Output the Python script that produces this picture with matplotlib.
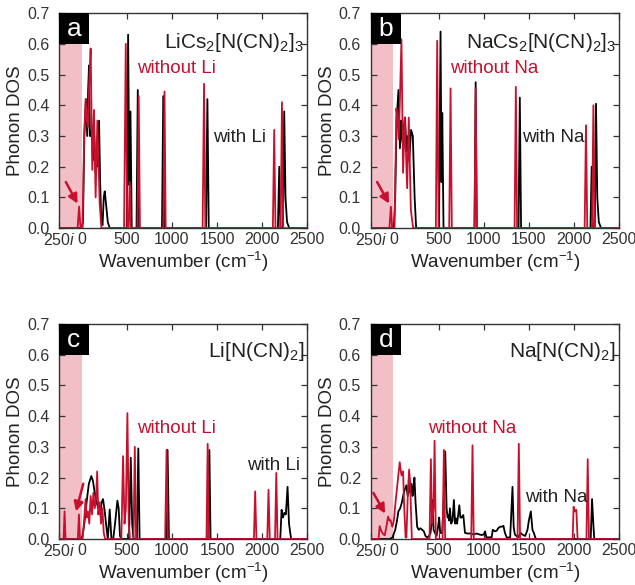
import matplotlib
matplotlib.use("Agg")
import matplotlib.pyplot as plt
from matplotlib.patches import Rectangle

plt.rcParams['font.family'] = ['Liberation Sans', 'DejaVu Sans']
plt.rcParams['mathtext.fontset'] = 'custom'
plt.rcParams['mathtext.rm'] = 'Liberation Sans'
plt.rcParams['mathtext.it'] = 'Liberation Sans:italic'
plt.rcParams['mathtext.bf'] = 'Liberation Sans:bold'

RED = '#c8102e'
PINK = '#f2bfc7'

# ---- panel a: LiCs2[N(CN)2]3 ----
a_red_x = [-250, -45, -28, -15, -5, 10, 28, 44, 58, 70, 85, 100, 118, 137, 155, 174, 200, 219,
           470, 489, 505, 520, 532, 545, 618, 632, 646, 905, 918, 931, 1340, 1356, 1370,
           2118, 2133, 2147, 2205, 2219, 2233, 2500]
a_red_y = [0, 0, 0.07, 0.01, 0, 0, 0.30, 0.42, 0.35, 0.33, 0.48, 0.585, 0.19, 0.385, 0.10, 0.35, 0.08, 0,
           0, 0.60, 0, 0, 0.15, 0, 0, 0.43, 0, 0, 0.445, 0, 0, 0.47, 0,
           0, 0.32, 0, 0, 0.41, 0, 0]
a_blk_x = [-250, 0, 15, 30, 48, 62, 72, 82, 92, 102, 112, 125, 140, 155, 170, 182, 193, 205, 218,
           232, 245, 256, 270, 290, 311,
           500, 515, 528, 541, 555, 608, 622, 636, 890, 904, 918, 1378, 1393, 1408,
           2174, 2189, 2202, 2230, 2244, 2258, 2275, 2300, 2500]
a_blk_y = [0, 0, 0.02, 0.30, 0.42, 0.30, 0.45, 0.53, 0.30, 0.30, 0.32, 0.22, 0.30, 0.18, 0.25, 0.20, 0.35, 0.15, 0.02,
           0.01, 0.10, 0.12, 0.08, 0.02, 0,
           0, 0.63, 0.14, 0.38, 0, 0, 0.45, 0, 0, 0.43, 0, 0, 0.42, 0,
           0, 0.20, 0, 0, 0.38, 0.10, 0.02, 0, 0]

# ---- panel b: NaCs2[N(CN)2]3 ----
b_red_x = [-250, -44, -28, -14, 12, 33, 45, 59, 75, 89, 107, 126, 152, 170, 193, 219,
           470, 485, 500, 618, 633, 647, 898, 911, 924, 1342, 1356, 1370,
           2118, 2133, 2147, 2200, 2215, 2229, 2500]
b_red_y = [0, 0, 0.07, 0, 0, 0.39, 0.35, 0.29, 0.45, 0.615, 0.18, 0.36, 0.13, 0.36, 0.06, 0,
           0, 0.61, 0, 0, 0.455, 0, 0, 0.455, 0, 0, 0.46, 0,
           0, 0.335, 0, 0, 0.40, 0, 0]
b_blk_x = [-250, 5, 20, 35, 56, 72, 85, 100, 115, 129, 145, 160, 175, 196, 215, 235, 252,
           505, 522, 533, 541, 555, 898, 911, 924, 1386, 1400, 1414,
           2182, 2196, 2208, 2230, 2244, 2258, 2275, 2300, 2500]
b_blk_y = [0, 0, 0.10, 0.35, 0.45, 0.26, 0.35, 0.28, 0.33, 0.36, 0.25, 0.30, 0.22, 0.32, 0.30, 0.10, 0,
           0, 0.64, 0.15, 0.375, 0, 0, 0.475, 0, 0, 0.425, 0,
           0, 0.20, 0, 0, 0.405, 0.10, 0.02, 0, 0]

# ---- panel c: Li[N(CN)2] ----
c_red_x = [-250, -200, -189, -178, -42, -30, -18, 10, 25, 44, 55, 70, 85, 100, 115, 130, 145, 160,
           172, 185, 200, 215, 230, 245, 260,
           440, 459, 475, 490, 507, 522, 535, 575, 589, 603, 925, 941, 955, 1383, 1396, 1409,
           1908, 1922, 1936, 2056, 2070, 2084, 2142, 2156, 2170, 2500]
c_red_y = [0, 0, 0.09, 0, 0, 0.08, 0, 0, 0.05, 0.13, 0.07, 0.09, 0.05, 0.14, 0.08, 0.15, 0.10, 0.13,
           0.22, 0.08, 0.12, 0.05, 0.10, 0.02, 0,
           0, 0.27, 0.05, 0.10, 0.41, 0.05, 0, 0, 0.30, 0, 0, 0.29, 0, 0, 0.31, 0,
           0, 0.155, 0, 0, 0.16, 0, 0, 0.215, 0, 0]
c_blk_x = [-250, -10, 10, 30, 55, 80, 107, 125, 145, 165, 185, 205, 222, 237, 256, 274, 290,
           311, 330, 350, 370, 396, 410, 425, 440,
           525, 544, 560, 575, 612, 628, 642, 937, 952, 967, 1402, 1415, 1428,
           2200, 2215, 2230, 2245, 2262, 2281, 2297, 2320, 2500]
c_blk_y = [0, 0, 0.01, 0.05, 0.12, 0.18, 0.205, 0.19, 0.15, 0.12, 0.10, 0.08, 0.12, 0.13, 0.09, 0.04, 0.0,
           0.096, 0.0, 0.0, 0.05, 0.125, 0.10, 0.01, 0,
           0, 0.265, 0.05, 0, 0, 0.295, 0, 0, 0.29, 0, 0, 0.29, 0,
           0, 0.095, 0.07, 0.085, 0.08, 0.17, 0.05, 0, 0]

# ---- panel d: Na[N(CN)2] ----
d_red_x = [-250, -165, -152, -133, -110, -96, -78, -59, -45, -33, -20, -11, 5, 26, 52, 70, 89, 107,
           120, 135, 144, 160, 174, 186, 204,
           400, 415, 428, 445, 456, 470, 545, 559, 573, 862, 876, 890, 1375, 1389, 1403,
           1985, 1996, 2010, 2026, 2040, 2138, 2152, 2166, 2500]
d_red_y = [0, 0, 0.042, 0.025, 0.015, 0.012, 0.04, 0.073, 0.06, 0.062, 0.05, 0.04, 0.06, 0.127, 0.20, 0.25, 0.207, 0.22,
           0.10, 0.005, 0.005, 0.15, 0.226, 0.18, 0,
           0, 0.26, 0.05, 0.10, 0.32, 0, 0, 0.29, 0, 0, 0.305, 0, 0, 0.31, 0,
           0, 0.105, 0.09, 0.095, 0, 0, 0.26, 0, 0]
d_blk_x = [-250, -40, -10, 20, 40, 55, 75, 95, 107, 125, 144, 158, 172, 185, 200, 212, 222, 233,
           245, 263, 280, 300, 318, 337, 355, 374, 395, 411, 422, 433, 445, 460, 478, 495, 507,
           518, 540, 560, 574, 589, 600, 607, 617, 626, 640, 655, 670, 683, 693, 705, 718, 730,
           742, 755, 774, 793, 820, 848, 885, 922, 950, 978, 1000, 1015, 1030, 1089, 1100, 1125,
           1144, 1160, 1181, 1200, 1219, 1235, 1255, 1293, 1305, 1319, 1332, 1345, 1380, 1410,
           1425, 1460, 1485, 1500, 1522, 1540, 1555, 1578, 2185, 2200, 2214, 2225, 2500]
d_blk_y = [0, 0, 0.005, 0.03, 0.06, 0.09, 0.10, 0.12, 0.14, 0.16, 0.175, 0.14, 0.18, 0.15, 0.18, 0.14, 0.17, 0.20,
           0.12, 0.04, 0.03, 0.035, 0.03, 0.025, 0.01, 0.005, 0.01, 0.02, 0.05, 0.127, 0.03, 0.02, 0.01, 0.04, 0.07,
           0.02, 0.02, 0.15, 0.285, 0.10, 0.07, 0.078, 0.06, 0.10, 0.05, 0.06, 0.127, 0.05, 0.067, 0.05, 0.08, 0.11,
           0.07, 0.07, 0.078, 0.02, 0.018, 0.018, 0.015, 0.018, 0.015, 0.013, 0.015, 0.025, 0.005, 0.006, 0.03, 0.025,
           0.027, 0.035, 0.04, 0.04, 0.043, 0.02, 0.005, 0.005, 0.08, 0.17, 0.04, 0.015, 0.005, 0.02,
           0.015, 0.01, 0.03, 0.06, 0.09, 0.03, 0.02, 0, 0, 0.13, 0.05, 0, 0]

xtick_pos = [-250, 0, 500, 1000, 1500, 2000, 2500]
xtick_lab = ['250$\\it{i}$', '0', '500', '1000', '1500', '2000', '2500']

panels = [
    dict(letter='a', rect=[0.093, 0.610, 0.391, 0.3675],
         title='LiCs$_2$[N(CN)$_2$]$_3$', title_y=0.865,
         rx=a_red_x, ry=a_red_y, bx=a_blk_x, by=a_blk_y,
         wo='without Li', wo_xy=(0.314, 0.744), w='with Li', w_xy=(0.62, 0.423),
         arrow=((-175, 0.15), (-45, 0.08))),
    dict(letter='b', rect=[0.584, 0.610, 0.391, 0.3675],
         title='NaCs$_2$[N(CN)$_2$]$_3$', title_y=0.865,
         rx=b_red_x, ry=b_red_y, bx=b_blk_x, by=b_blk_y,
         wo='without Na', wo_xy=(0.318, 0.744), w='with Na', w_xy=(0.61, 0.423),
         arrow=((-180, 0.15), (-48, 0.08))),
    dict(letter='c', rect=[0.093, 0.0786, 0.391, 0.3675],
         title='Li[N(CN)$_2$]', title_y=0.87,
         rx=c_red_x, ry=c_red_y, bx=c_blk_x, by=c_blk_y,
         wo='without Li', wo_xy=(0.314, 0.516), w='with Li', w_xy=(0.758, 0.344),
         arrow=((18, 0.18), (-62, 0.09))),
    dict(letter='d', rect=[0.584, 0.0786, 0.391, 0.3675],
         title='Na[N(CN)$_2$]', title_y=0.87,
         rx=d_red_x, ry=d_red_y, bx=d_blk_x, by=d_blk_y,
         wo='without Na', wo_xy=(0.23, 0.516), w='with Na', w_xy=(0.62, 0.195),
         arrow=((-222, 0.15), (-92, 0.083))),
]

fig = plt.figure(figsize=(6.35, 5.85), dpi=100)

for p in panels:
    ax = fig.add_axes(p['rect'])
    ax.set_xlim(-250, 2500)
    ax.set_ylim(0, 0.7)
    # imaginary-frequency region
    ax.add_patch(Rectangle((-250, 0), 250, 0.6, facecolor=PINK, edgecolor='none', zorder=0))
    ax.plot(p['bx'], p['by'], color='black', lw=1.3, zorder=2)
    ax.plot(p['rx'], p['ry'], color=RED, lw=1.3, zorder=3)
    # panel letter box
    ax.add_patch(Rectangle((0, 0.857), 0.12, 0.143, transform=ax.transAxes,
                           facecolor='black', edgecolor='none', zorder=4))
    ax.text(0.06, 0.925, p['letter'], transform=ax.transAxes, color='white',
            fontsize=19, ha='center', va='center', zorder=5)
    ax.text(0.988, p['title_y'], p['title'], transform=ax.transAxes,
            fontsize=15, ha='right', va='center', color='#222222')
    ax.text(p['wo_xy'][0], p['wo_xy'][1], p['wo'], transform=ax.transAxes,
            fontsize=13.5, color=RED, ha='left', va='center')
    ax.text(p['w_xy'][0], p['w_xy'][1], p['w'], transform=ax.transAxes,
            fontsize=13.5, color='#222222', ha='left', va='center')
    ax.annotate('', xy=p['arrow'][1], xytext=p['arrow'][0],
                arrowprops=dict(arrowstyle='-|>,head_length=0.55,head_width=0.28',
                                color=RED, lw=1.8, shrinkA=0, shrinkB=0), zorder=5)
    ax.set_xticks(xtick_pos)
    ax.set_xticklabels(xtick_lab)
    ax.set_yticks([0, 0.1, 0.2, 0.3, 0.4, 0.5, 0.6, 0.7])
    ax.set_yticklabels(['0.0', '0.1', '0.2', '0.3', '0.4', '0.5', '0.6', '0.7'])
    ax.tick_params(direction='in', top=True, right=True, length=4, width=0.9,
                   labelsize=11.5, colors='#333333')
    ax.tick_params(axis='y', pad=7)
    ax.tick_params(axis='x', pad=3)
    for s in ax.spines.values():
        s.set_color('#333333')
        s.set_linewidth(1.0)
    ax.set_xlabel('Wavenumber (cm$^{-1}$)', fontsize=13.5, color='#222222', labelpad=1)
    ax.set_ylabel('Phonon DOS', fontsize=13.5, color='#222222', labelpad=2)

fig.savefig('out.png', dpi=100)
